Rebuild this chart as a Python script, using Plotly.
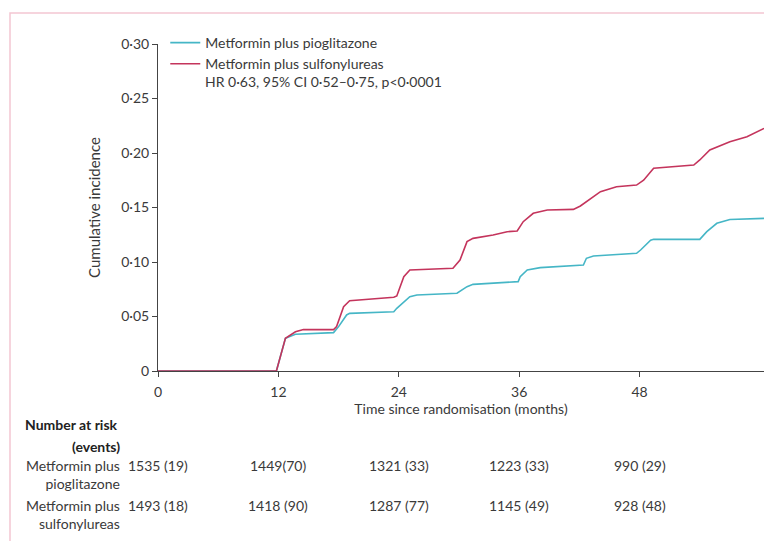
import plotly.graph_objects as go

# ---- data ----
pio_month = [0, 11.8, 12.7, 13.7, 17.5, 18.0, 18.8, 19.1, 23.5, 23.8, 25.1, 25.8, 29.8, 30.8, 31.4,
             35.9, 36.1, 36.8, 38.1, 42.4, 42.7, 43.4, 47.7, 48.1, 49.1, 49.4, 54.0, 54.7, 55.7, 57.0, 60.4]
pio_cum = [0, 0, 0.030, 0.0337, 0.0352, 0.0407, 0.0514, 0.0529, 0.0544, 0.0575, 0.0682, 0.0697, 0.0713,
           0.0774, 0.0795, 0.082, 0.0865, 0.0927, 0.0948, 0.0972, 0.1034, 0.1055, 0.108, 0.111, 0.120,
           0.1208, 0.1208, 0.1278, 0.1355, 0.139, 0.140]

sul_month = [0, 11.8, 12.7, 13.7, 14.5, 17.5, 17.8, 18.5, 19.1, 23.5, 23.8, 24.5, 25.1, 29.4, 30.1,
             30.8, 31.4, 33.4, 34.8, 35.8, 36.4, 37.4, 38.8, 41.4, 42.1, 43.4, 44.1, 45.7, 47.7, 48.4,
             49.4, 53.4, 54.0, 55.0, 57.0, 58.7, 60.4]
sul_cum = [0, 0, 0.030, 0.036, 0.038, 0.038, 0.0407, 0.059, 0.0645, 0.0676, 0.0688, 0.0865, 0.0927,
           0.0942, 0.1018, 0.1187, 0.1217, 0.1248, 0.1278, 0.1284, 0.137, 0.1447, 0.1477, 0.1483,
           0.1514, 0.160, 0.1645, 0.169, 0.1706, 0.175, 0.186, 0.189, 0.1936, 0.2028, 0.2104, 0.215, 0.2226]

x_ticks = [0, 12, 24, 36, 48]
y_ticks = [0, 0.05, 0.10, 0.15, 0.20, 0.25, 0.30]
y_tick_labels = ["0", "0·05", "0·10", "0·15", "0·20", "0·25", "0·30"]

risk_months = [0, 12, 24, 36, 48]
risk_pio = ["1535 (19)", "1449(70)", "1321 (33)", "1223 (33)", "990 (29)"]
risk_sul = ["1493 (18)", "1418 (90)", "1287 (77)", "1145 (49)", "928 (48)"]
group_labels = ["Metformin plus<br>pioglitazone", "Metformin plus<br>sulfonylureas"]

CYAN = "#45b6c6"
RED = "#c4345c"
TXT = "#3a3a3a"
FONT = "Lato, 'Liberation Sans', sans-serif"
FS = 14

fig = go.Figure()
fig.add_trace(go.Scatter(x=pio_month, y=pio_cum, mode="lines", name="Metformin plus pioglitazone",
                         line=dict(color=CYAN, width=1.6)))
fig.add_trace(go.Scatter(x=sul_month, y=sul_cum, mode="lines", name="Metformin plus sulfonylureas",
                         line=dict(color=RED, width=1.6)))

fig.update_layout(
    width=764, height=541,
    margin=dict(l=158, r=0, t=44, b=170),
    paper_bgcolor="white", plot_bgcolor="white",
    font=dict(family=FONT, size=FS, color=TXT),
    showlegend=True,
    legend=dict(x=0.012, y=1.052, xanchor="left", yanchor="top", bgcolor="rgba(0,0,0,0)",
                font=dict(size=FS, color=TXT), itemwidth=30, tracegroupgap=0),
    xaxis=dict(range=[0, 60.4], tickvals=x_ticks, ticks="outside", ticklen=5, tickcolor="#444",
               showline=True, linecolor="#444", linewidth=1, showgrid=False, zeroline=False,
               tickfont=dict(size=FS, color=TXT), ticklabelstandoff=3,
               title=dict(text="Time since randomisation (months)", font=dict(size=FS, color=TXT), standoff=2)),
    yaxis=dict(range=[0, 0.30], tickvals=y_ticks, ticktext=y_tick_labels, ticks="outside", ticklen=5,
               tickcolor="#444", showline=True, linecolor="#444", linewidth=1, showgrid=False,
               zeroline=False, tickfont=dict(size=FS, color=TXT),
               title=dict(text="Cumulative incidence", font=dict(size=15, color=TXT), standoff=16)),
)

# HR annotation under legend
fig.add_annotation(xref="paper", yref="paper", x=(203 - 158) / 606, y=(371 - 81) / 327,
                   xanchor="left", yanchor="middle", showarrow=False,
                   text="HR 0·63, 95% CI 0·52–0·75, p<0·0001", font=dict(size=FS, color=TXT))

# number at risk table
def py(p):
    return (371 - p) / 327

fig.add_annotation(xref="paper", yref="paper", x=(23 - 158) / 606, y=py(425), xanchor="left",
                   yanchor="middle", showarrow=False, text="<b>Number at risk</b>", font=dict(size=FS, color="#222"))
fig.add_annotation(xref="paper", yref="paper", x=(122 - 158) / 606, y=py(446), xanchor="right",
                   yanchor="middle", showarrow=False, text="<b>(events)</b>", font=dict(size=FS, color="#222"))
for gl, row_y in zip(group_labels, [474, 514]):
    fig.add_annotation(xref="paper", yref="paper", x=(122 - 158) / 606, y=py(row_y), xanchor="right",
                       yanchor="middle", showarrow=False, text=gl, align="right",
                       font=dict(size=FS, color=TXT))
for vals, row_y in zip([risk_pio, risk_sul], [465, 505]):
    for m, v in zip(risk_months, vals):
        fig.add_annotation(xref="x", yref="paper", x=m, y=py(row_y), xanchor="center",
                           yanchor="middle", showarrow=False, text=v, font=dict(size=FS, color=TXT))

# pink frame
fig.add_shape(type="rect", xref="paper", yref="paper", x0=(10 - 158) / 606, x1=1.2,
              y0=py(600), y1=py(13), line=dict(color="#f3c6d2", width=1.5), layer="below")

fig.write_html("out.html")
